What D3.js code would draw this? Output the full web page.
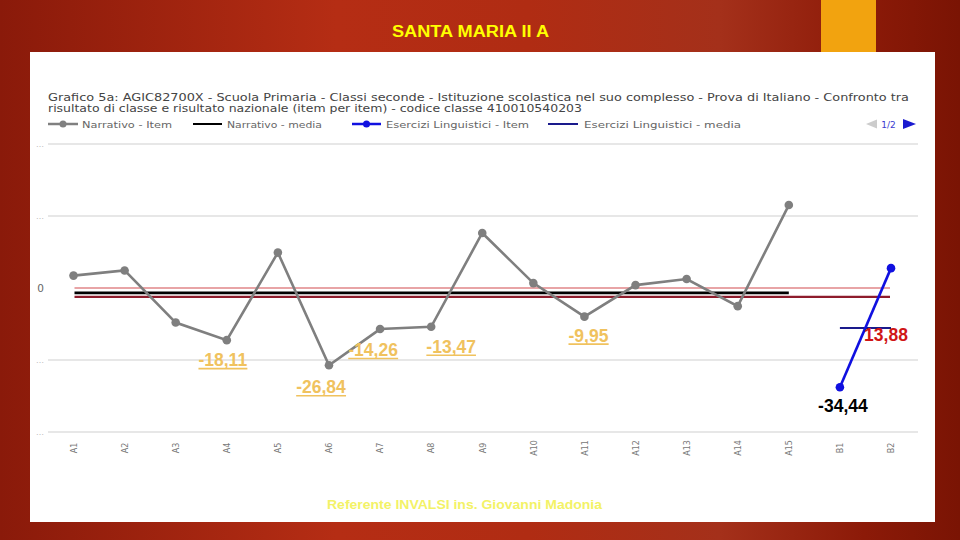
<!DOCTYPE html>
<html><head><meta charset="utf-8">
<script src="https://cdn.jsdelivr.net/npm/d3@7/dist/d3.min.js"></script>
<style>body{margin:0;overflow:hidden;background:#9a2010}svg{display:block}</style>
</head><body>
<svg id="c" width="960" height="540"></svg>
<script>
// ---------- DATA ----------
const pageTitle = "SANTA MARIA II A";
const chartTitle1 = "Grafico 5a: AGIC82700X - Scuola Primaria - Classi seconde - Istituzione scolastica nel suo complesso - Prova di Italiano - Confronto tra";
const chartTitle2 = "risultato di classe e risultato nazionale (item per item) - codice classe 410010540203";
const footerText = "Referente INVALSI ins. Giovanni Madonia";
const legendLabels = ["Narrativo - Item", "Narrativo - media", "Esercizi Linguistici - Item", "Esercizi Linguistici - media"];
const pagerLabel = "1/2";

const categories = ["A1","A2","A3","A4","A5","A6","A7","A8","A9","A10","A11","A12","A13","A14","A15","B1","B2"];
const narrativoItems = ["A1","A2","A3","A4","A5","A6","A7","A8","A9","A10","A11","A12","A13","A14","A15"];
const narrativoValues = [4.3, 6.1, -12.0, -18.11, 12.3, -26.84, -14.26, -13.47, 19.1, 1.7, -9.95, 1.0, 3.1, -6.3, 28.8];
const eserciziItems = ["B1","B2"];
const eserciziValues = [-34.44, 6.9];
const narrativoMedia = -1.7;
const eserciziMedia = -13.88;
const referenceLines = [0, -3.1];
const yTickValues = [50, 25, 0, -25, -50];
const annotationTexts = ["-18,11","-26,84","-14,26","-13,47","-9,95","-34,44","13,88"];
const annotationCats  = ["A4","A6","A7","A8","A11","B1","B2"];
const annotationValues = [-18.11, -26.84, -14.26, -13.47, -9.95, -34.44, -13.88];

// ---------- DRAW ----------
const svg = d3.select("#c");
const defs = svg.append("defs");
const lg = defs.append("linearGradient").attr("id","bg").attr("x1","0").attr("x2","1").attr("y1","0").attr("y2","0");
[["0%","#8a1a0a"],["35%","#b52d14"],["55%","#b02c13"],["75%","#a4301a"],["90%","#8c1a08"],["100%","#7a1404"]]
  .forEach(s => lg.append("stop").attr("offset", s[0]).attr("stop-color", s[1]));
svg.append("rect").attr("width",960).attr("height",540).attr("fill","url(#bg)");

// orange tab
svg.append("rect").attr("x",821).attr("y",0).attr("width",55).attr("height",53).attr("fill","#f2a30f");

// page title
svg.append("text").attr("x",470.5).attr("y",37).attr("text-anchor","middle")
  .attr("font-family","'Liberation Sans Narrow','Arial Narrow','Liberation Sans',sans-serif")
  .attr("font-weight","bold").attr("font-size",16).attr("fill","#ffff00")
  .attr("textLength",157).attr("lengthAdjust","spacingAndGlyphs").text(pageTitle);

// white panel
svg.append("rect").attr("x",30).attr("y",52).attr("width",905).attr("height",470).attr("fill","#ffffff");

// chart title
const tfont = "'DejaVu Sans',Verdana,sans-serif";
svg.append("text").attr("x",48).attr("y",101).attr("font-family",tfont).attr("font-size",10.5)
  .attr("fill","#444").attr("textLength",861).attr("lengthAdjust","spacingAndGlyphs").text(chartTitle1);
svg.append("text").attr("x",48).attr("y",112).attr("font-family",tfont).attr("font-size",10.5)
  .attr("fill","#444").attr("textLength",534).attr("lengthAdjust","spacingAndGlyphs").text(chartTitle2);

// legend
const legendItems = [
  {x1:48, x2:78, color:"#808080", w:2.5, dot:true, tx:82, tl:90},
  {x1:193, x2:222, color:"#000000", w:2, dot:false, tx:227, tl:95},
  {x1:352, x2:381, color:"#1010e0", w:2.5, dot:true, tx:386, tl:143},
  {x1:548, x2:578, color:"#1a1a8c", w:2, dot:false, tx:584, tl:157}
];
const lgG = svg.append("g");
legendItems.forEach((it,i) => {
  lgG.append("line").attr("x1",it.x1).attr("x2",it.x2).attr("y1",124).attr("y2",124)
    .attr("stroke",it.color).attr("stroke-width",it.w);
  if (it.dot) lgG.append("circle").attr("cx",(it.x1+it.x2)/2).attr("cy",124).attr("r",3.5).attr("fill",it.color);
  lgG.append("text").attr("x",it.tx).attr("y",127.5).attr("font-family",tfont).attr("font-size",9.5)
    .attr("fill","#666").attr("textLength",it.tl).attr("lengthAdjust","spacingAndGlyphs").text(legendLabels[i]);
});
lgG.append("path").attr("d","M866,124 L877,119.5 L877,128.5 Z").attr("fill","#cccccc");
lgG.append("text").attr("x",888.5).attr("y",127.5).attr("text-anchor","middle").attr("font-family",tfont)
  .attr("font-size",9).attr("fill","#3b3bd0").text(pagerLabel);
lgG.append("path").attr("d","M916,124 L903,119 L903,129 Z").attr("fill","#1a1ad0");

// scales
const x = d3.scalePoint().domain(categories).range([73.5, 891]);
const y = d3.scaleLinear().domain([-50, 50]).range([432, 144]);

// gridlines
svg.append("g").selectAll("line").data(yTickValues.filter(d => d !== 0)).join("line")
  .attr("x1",48).attr("x2",918).attr("y1",d=>y(d)).attr("y2",d=>y(d))
  .attr("stroke","#cfcfcf").attr("stroke-width",1);

// y axis
const yAxis = svg.append("g").attr("transform","translate(46,0)")
  .call(d3.axisLeft(y).tickValues(yTickValues).tickSize(0).tickPadding(2).tickFormat(d => d === 0 ? "0" : "…"));
yAxis.select(".domain").remove();
yAxis.selectAll("text").attr("font-family",tfont).attr("fill",d => d===0 ? "#666" : "#bbb")
  .attr("font-size", d => d===0 ? 10.5 : 8);

// x axis
const xAxis = svg.append("g").attr("transform","translate(0,436)")
  .call(d3.axisBottom(x).tickSize(0).tickPadding(0));
xAxis.select(".domain").remove();
xAxis.selectAll("text").attr("font-family",tfont).attr("font-size",8).attr("fill","#777")
  .attr("text-anchor","middle").attr("dy","0.35em")
  .attr("transform","translate(0,12) rotate(-90)");

// reference lines
const refColors = ["#e8a4a6","#8e1c2c"];
svg.append("g").selectAll("line").data(referenceLines).join("line")
  .attr("x1",x("A1")+1).attr("x2",x("B2")-1).attr("y1",d=>y(d)).attr("y2",d=>y(d))
  .attr("stroke",(d,i)=>refColors[i]).attr("stroke-width",2.2);

// narrativo media
svg.append("line").attr("x1",x("A1")+1).attr("x2",x("A15")).attr("y1",y(narrativoMedia)).attr("y2",y(narrativoMedia))
  .attr("stroke","#000").attr("stroke-width",2.6);

// esercizi media
svg.append("line").attr("x1",x("B1")).attr("x2",x("B2")).attr("y1",y(eserciziMedia)).attr("y2",y(eserciziMedia))
  .attr("stroke","#1a1a8c").attr("stroke-width",2);

// narrativo series
const narr = narrativoItems.map((c,i)=>({c, v:narrativoValues[i]}));
const line = d3.line().x(d=>x(d.c)).y(d=>y(d.v));
svg.append("path").datum(narr).attr("d",line).attr("fill","none").attr("stroke","#7f7f7f").attr("stroke-width",2.6);
svg.append("g").selectAll("circle").data(narr).join("circle")
  .attr("cx",d=>x(d.c)).attr("cy",d=>y(d.v)).attr("r",4.3).attr("fill","#7f7f7f");

// esercizi series
const eser = eserciziItems.map((c,i)=>({c, v:eserciziValues[i]}));
svg.append("path").datum(eser).attr("d",line).attr("fill","none").attr("stroke","#1010e0").attr("stroke-width",2.6);
svg.append("g").selectAll("circle").data(eser).join("circle")
  .attr("cx",d=>x(d.c)).attr("cy",d=>y(d.v)).attr("r",4.3).attr("fill","#1010e0");

// annotations
const annLayout = [
  {dx:-4, dy:26, color:"#f0c25e", u:true},
  {dx:-8, dy:28, color:"#f0c25e", u:true},
  {dx:-7, dy:27, color:"#f0c25e", u:true},
  {dx:20, dy:26, color:"#f0c25e", u:true},
  {dx:4, dy:25, color:"#f0c25e", u:true},
  {dx:3, dy:25, color:"#000000", u:false},
  {dx:-5, dy:13, color:"#d01515", u:false}
];
const annG = svg.append("g");
annotationTexts.forEach((t,i) => {
  const L = annLayout[i];
  const tx = annG.append("text").attr("x", x(annotationCats[i]) + L.dx).attr("y", y(annotationValues[i]) + L.dy)
    .attr("text-anchor","middle").attr("font-family","'Liberation Sans',Arial,sans-serif")
    .attr("font-weight","bold").attr("font-size",17.5).attr("fill",L.color).text(t);
  if (L.u) {
    const b = tx.node().getBBox();
    annG.append("line").attr("x1",b.x).attr("x2",b.x+b.width)
      .attr("y1", y(annotationValues[i]) + L.dy + 2.5).attr("y2", y(annotationValues[i]) + L.dy + 2.5)
      .attr("stroke",L.color).attr("stroke-width",1.6);
  }
});

// footer
svg.append("text").attr("x",464.5).attr("y",509).attr("text-anchor","middle")
  .attr("font-family","'Liberation Sans',Arial,sans-serif").attr("font-weight","bold").attr("font-size",12.5)
  .attr("fill","#f3f266").attr("textLength",275).attr("lengthAdjust","spacingAndGlyphs").text(footerText);
</script>
</body></html>
